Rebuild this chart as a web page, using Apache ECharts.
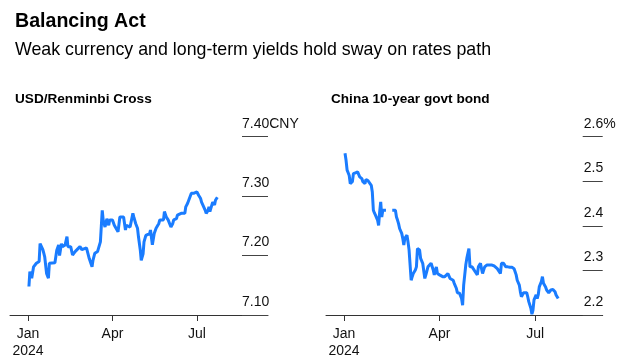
<!DOCTYPE html>
<html>
<head>
<meta charset="utf-8">
<script src="https://cdn.jsdelivr.net/npm/echarts@6/dist/echarts.min.js"></script>
<style>html,body{margin:0;padding:0;background:#fff}#c{width:640px;height:364px}</style>
</head>
<body>
<div id="c"></div>
<script>
// ---- Data ----
const fxDates = ['01-02','01-03','01-04','01-05','01-06','01-07','01-08','01-10','01-11','01-13','01-14','01-15','01-17','01-18','01-19','01-21','01-23','01-24','01-26','01-30',
'02-01','02-03','02-04','02-06','02-07','02-10','02-12','02-13','02-16','02-18','02-21','02-23','02-26','02-28',
'03-01','03-04','03-05','03-07','03-10','03-11','03-13','03-16','03-18','03-19','03-21','03-22','03-24','03-26','03-28','03-29',
'04-01','04-03','04-05','04-07','04-09','04-11','04-13','04-15','04-16','04-18','04-20','04-22','04-23','04-24','04-26','04-28','04-29',
'05-01','05-02','05-04','05-05','05-07','05-09','05-11','05-12','05-14','05-16','05-18','05-21','05-22','05-24','05-26','05-27','05-29','05-31',
'06-01','06-03','06-05','06-06','06-09','06-10','06-12','06-14','06-16','06-18','06-19','06-21','06-23','06-25','06-27','06-28',
'07-01','07-03','07-05','07-06','07-08','07-10','07-11','07-13','07-14','07-15','07-17','07-18','07-20','07-21','07-23'];
const fxValues = [7.148,7.173,7.176,7.162,7.162,7.181,7.178,7.187,7.186,7.190,7.220,7.222,7.210,7.204,7.198,7.170,7.162,7.187,7.187,7.188,
7.209,7.218,7.200,7.220,7.215,7.218,7.232,7.215,7.215,7.201,7.207,7.210,7.215,7.210,
7.213,7.213,7.210,7.195,7.181,7.192,7.204,7.207,7.210,7.223,7.276,7.260,7.248,7.262,7.251,7.260,
7.260,7.251,7.248,7.240,7.265,7.262,7.265,7.243,7.251,7.248,7.248,7.251,7.271,7.265,7.254,7.246,7.232,
7.209,7.192,7.203,7.223,7.234,7.231,7.237,7.243,7.218,7.237,7.246,7.254,7.260,7.262,7.260,7.274,7.265,7.260,
7.260,7.248,7.254,7.260,7.262,7.268,7.271,7.271,7.274,7.271,7.282,7.288,7.285,7.305,7.307,7.305,
7.307,7.301,7.296,7.290,7.293,7.276,7.271,7.276,7.282,7.274,7.276,7.290,7.285,7.293,7.298];

const bondDates = ['01-02','01-03','01-04','01-05','01-06','01-07','01-09','01-10','01-12','01-14','01-15','01-16','01-18','01-19','01-21','01-22','01-24','01-25','01-27','01-28','01-29','01-30','01-31',
'02-02','02-03','02-04','02-05','02-06','02-07','02-09','02-10','02-13','02-16','02-19','02-20','02-21','02-22','02-23','02-25','02-26','02-27','02-28',
'03-01','03-02','03-03','03-05','03-06','03-07','03-09','03-10','03-11','03-13','03-14','03-16','03-18','03-19','03-21','03-22','03-24','03-26','03-27','03-29','03-30',
'04-01','04-02','04-04','04-06','04-07','04-09','04-11','04-12','04-14','04-15','04-17','04-18','04-20','04-21','04-22','04-23','04-24','04-25','04-26','04-27','04-29','04-30',
'05-01','05-02','05-03','05-05','05-07','05-08','05-10','05-11','05-12','05-14','05-15','05-16','05-18','05-19','05-21','05-23','05-24','05-26','05-27','05-29','05-30',
'06-01','06-03','06-05','06-07','06-09','06-11','06-12','06-13','06-14','06-16','06-17','06-18','06-20','06-21','06-23','06-24','06-25','06-27','06-28','06-29','06-30',
'07-02','07-03','07-04','07-05','07-07','07-08','07-09','07-11','07-12','07-13','07-14','07-16','07-17','07-18','07-20','07-21','07-23'];
const bondValues = [2.563,2.547,2.525,2.519,2.513,2.495,2.499,2.517,2.519,2.521,2.525,2.510,2.506,2.499,2.495,2.504,2.501,2.499,2.491,2.476,2.435,2.429,2.424,
2.413,2.401,2.431,2.454,2.420,2.435,2.435,2.435,null,2.435,2.435,2.420,2.413,2.405,2.394,2.383,2.372,2.357,2.372,
2.379,2.364,2.346,2.278,2.286,2.293,2.301,2.308,2.349,2.346,2.327,2.316,2.282,2.290,2.308,2.304,2.316,2.301,2.290,2.308,2.293,
2.290,2.286,2.286,2.286,2.286,2.293,2.282,2.280,2.278,2.271,2.260,2.250,2.249,2.245,2.237,2.222,2.267,2.271,2.312,2.327,2.349,2.308,
2.308,2.308,2.304,2.297,2.290,2.308,2.316,2.304,2.293,2.308,2.312,2.312,2.312,2.308,2.312,2.310,2.312,2.304,2.302,2.293,2.316,
2.316,2.308,2.308,2.307,2.307,2.304,2.297,2.290,2.278,2.267,2.252,2.241,2.250,2.252,2.250,2.241,2.230,2.215,2.202,2.211,2.234,
2.245,2.237,2.245,2.263,2.275,2.286,2.271,2.263,2.256,2.252,2.250,2.256,2.260,2.257,2.252,2.245,2.237];

const xTickDates = ['01-01','04-01','07-01'];
const xTickLabels = ['Jan\n2024','Apr','Jul'];
const fxTicks = [7.10, 7.20, 7.30, 7.40];
const bondTicks = [2.2, 2.3, 2.4, 2.5, 2.6];

// ---- Helpers ----
const DAY = 86400000;
const ts = s => { const p = s.split('-').map(Number); return Date.UTC(2024, p[0]-1, p[1]); };
const JAN1 = ts('01-01');
const tickTs = xTickDates.map(ts);
const FONT = "'Liberation Sans', Arial, Helvetica, sans-serif";
const BLUE = '#1a7cff';

function xAxisCfg(gridIndex, minDays, maxDays) {
  return {
    type: 'value', gridIndex,
    min: JAN1 + minDays * DAY, max: JAN1 + maxDays * DAY,
    axisLine: { show: true, lineStyle: { color: '#333', width: 1 } },
    axisTick: { show: true, customValues: tickTs, length: 6, lineStyle: { color: '#333', width: 1 } },
    axisLabel: {
      customValues: tickTs, margin: 11, color: '#111', fontSize: 14, fontFamily: FONT, lineHeight: 17,
      formatter: v => { const i = tickTs.indexOf(v); return i >= 0 ? xTickLabels[i] : ''; }
    },
    splitLine: { show: false }
  };
}
function yAxisCfg(gridIndex, ticks, digits, unit, tickLen, margin) {
  const min = ticks[0], max = ticks[ticks.length-1];
  return {
    type: 'value', gridIndex, position: 'right',
    min, max, interval: +(ticks[1]-ticks[0]).toFixed(4),
    axisLine: { show: false },
    axisTick: { show: true, inside: true, length: tickLen, lineStyle: { color: '#444', width: 1 } },
    splitLine: { show: false },
    axisLabel: {
      margin: margin, align: 'left', verticalAlign: 'bottom', padding: [0,0,6,0], lineHeight: 14,
      color: '#111', fontSize: 14, fontFamily: FONT,
      formatter: v => { const s = v.toFixed(digits); return Math.abs(v - max) < 1e-6 ? s + unit : s; }
    }
  };
}

const chart = echarts.init(document.getElementById('c'), null, { renderer: 'canvas' });
chart.setOption({
  useUTC: true,
  animation: false,
  backgroundColor: '#fff',
  title: [
    { text: 'Balancing Act', left: 10, top: 7, textStyle: { fontSize: 19.6, fontWeight: 'bold', color: '#000', fontFamily: FONT } },
    { text: 'Weak currency and long-term yields hold sway on rates path', left: 10, top: 36, textStyle: { fontSize: 17.8, fontWeight: 'normal', color: '#000', fontFamily: FONT } },
    { text: 'USD/Renminbi Cross', left: 10, top: 87, textStyle: { fontSize: 13.6, fontWeight: 'bold', color: '#000', fontFamily: FONT } },
    { text: 'China 10-year govt bond', left: 326, top: 87, textStyle: { fontSize: 13.6, fontWeight: 'bold', color: '#000', fontFamily: FONT } }
  ],
  grid: [
    { left: 10, width: 258, top: 136.7, height: 178.3, containLabel: false },
    { left: 326, width: 276.7, top: 136.7, height: 178.3, containLabel: false }
  ],
  xAxis: [ xAxisCfg(0, -19.4, 258.6), xAxisCfg(1, -17.1, 246.4) ],
  yAxis: [ yAxisCfg(0, fxTicks, 2, 'CNY', 26, -26), yAxisCfg(1, bondTicks, 1, '%', 20, -19) ],
  series: [
    { type: 'line', xAxisIndex: 0, yAxisIndex: 0, showSymbol: false, clip: false,
      lineStyle: { color: BLUE, width: 3 },
      data: fxDates.map((d, i) => [ts(d), fxValues[i]]) },
    { type: 'line', xAxisIndex: 1, yAxisIndex: 1, showSymbol: false, clip: false, connectNulls: false,
      lineStyle: { color: BLUE, width: 3 },
      data: bondDates.map((d, i) => [ts(d), bondValues[i]]) }
  ]
});
</script>
</body>
</html>
